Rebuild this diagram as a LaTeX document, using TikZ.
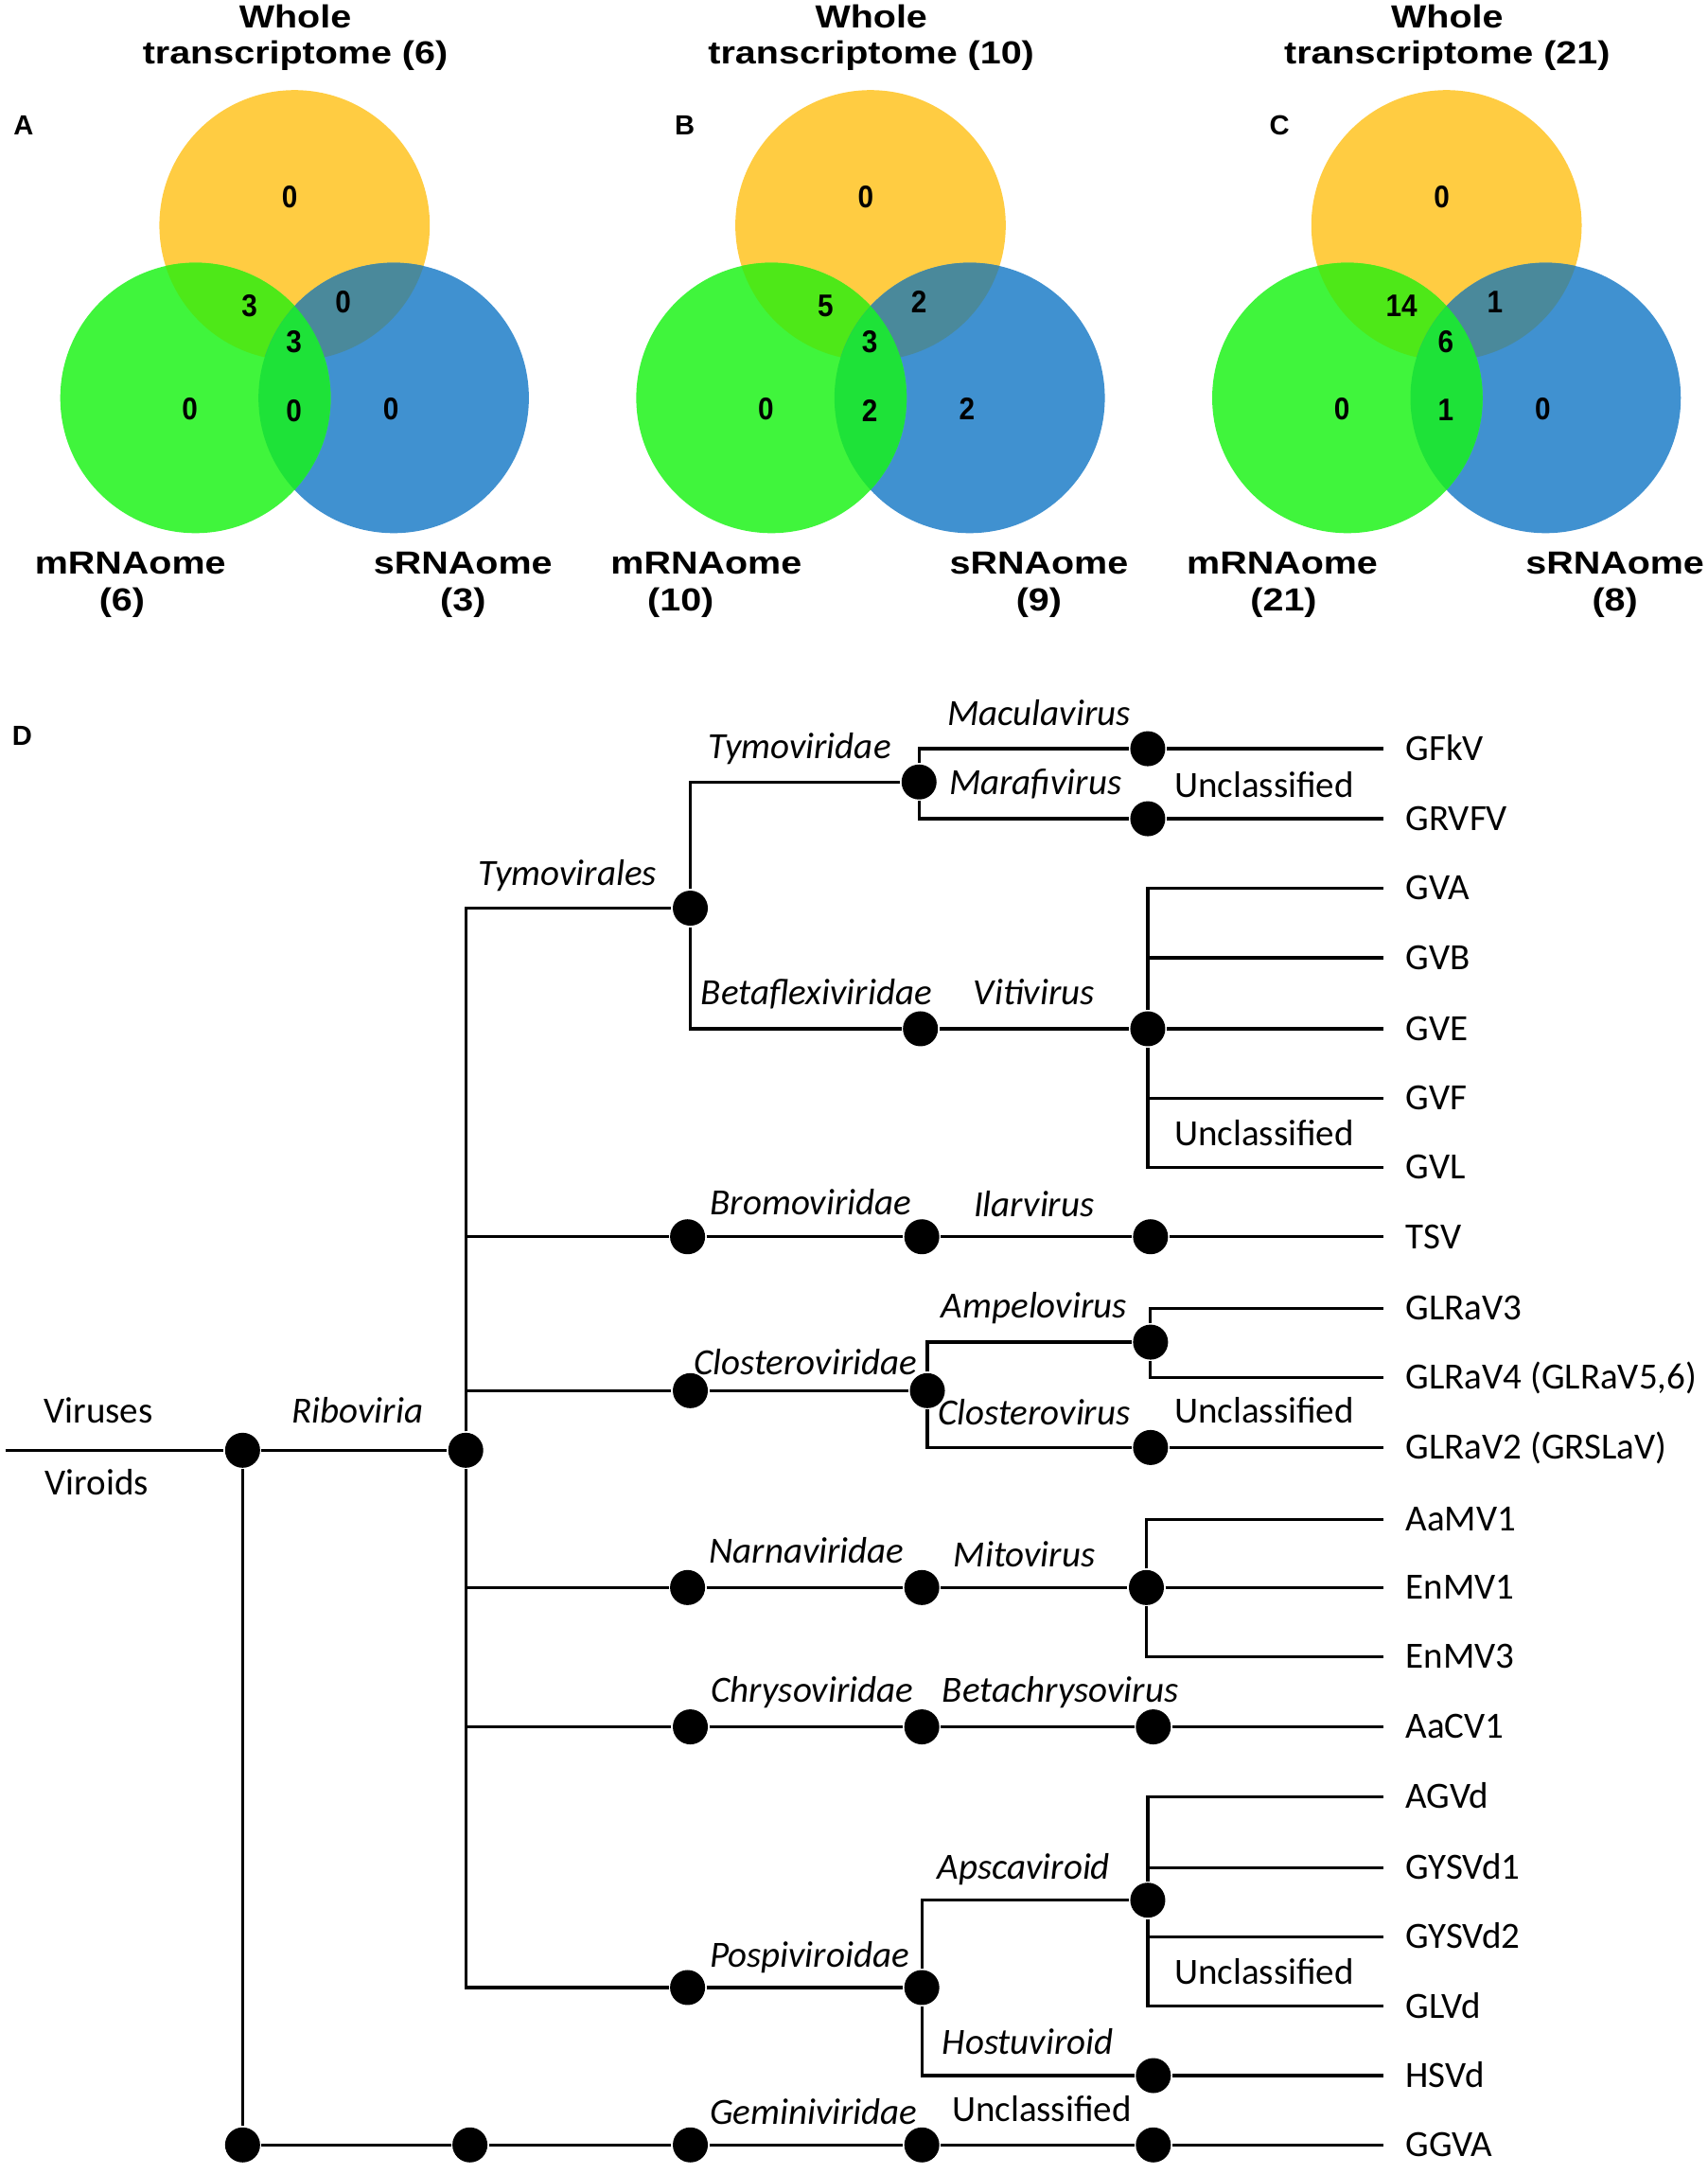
\documentclass[tikz,border=0pt]{standalone}
\usepackage{fontspec}
\setmainfont{Carlito}
\newfontfamily\vennfont[FakeStretch=1.17]{Liberation Sans}
\newfontfamily\vennnumfont[FakeStretch=0.9]{Liberation Sans}
\newfontfamily\panelfont{Liberation Sans}
\usetikzlibrary{positioning,calc}

\definecolor{vennyel}{RGB}{255,204,66}
\definecolor{venngrn}{RGB}{64,245,60}
\definecolor{vennblu}{RGB}{64,145,208}
\definecolor{vennyg}{RGB}{78,232,24}
\definecolor{vennyb}{RGB}{74,137,155}
\definecolor{venngb}{RGB}{30,226,56}

\tikzset{
  taxdot/.style={circle,fill=black,inner sep=0pt,minimum size=0.37cm},
  taxon/.style={font=\fontsize{11.1}{13}\selectfont\itshape,text height=8pt,text depth=1pt},
  uptext/.style={font=\fontsize{11.1}{13}\selectfont,text height=8pt,text depth=1pt},
  leaf/.style={uptext,anchor=west,inner xsep=0.22cm},
  vlab/.style={font=\vennfont\bfseries\fontsize{9.6}{11}\selectfont},
  vnum/.style={font=\vennnumfont\bfseries\fontsize{9.4}{11}\selectfont},
  panel/.style={font=\panelfont\bfseries\fontsize{8.3}{10}\selectfont}
}
\def\vr{1.4285cm}

\begin{document}
\begin{tikzpicture}[x=0.014651cm,y=-0.014651cm,line width=0.9pt]
\useasboundingbox (0,0) rectangle (1232,1568);

% Venn diagrams A, B, C
\foreach \dx/\p/\nt/\nm/\ns/\px/\lx/\ny/\nyg/\nyb/\nc/\ngb/\ng/\nb in {
    0/A/6/6/3/88/17/0/3/0/3/0/0/0,
    415.5/B/10/10/9/491/494/0/5/2/3/2/0/2,
    831/C/21/21/8/926/923/0/14/1/6/1/0/0}{
  \coordinate (Y\p) at ({\dx+212.5},162.5);
  \coordinate (G\p) at ({\dx+141},287);
  \coordinate (B\p) at ({\dx+284},287);
  \fill[vennyel] (Y\p) circle (\vr);
  \fill[vennblu] (B\p) circle (\vr);
  \fill[venngrn] (G\p) circle (\vr);
  \begin{scope}
    \clip (Y\p) circle (\vr);
    \fill[vennyg] (G\p) circle (\vr);
    \fill[vennyb] (B\p) circle (\vr);
  \end{scope}
  \begin{scope}
    \clip (G\p) circle (\vr);
    \fill[venngb] (B\p) circle (\vr);
  \end{scope}
  \node[vnum] (nY\p) at ({\dx+209},142) {\ny};
  \node[vnum] (nYG\p) at ({\dx+180},220.5) {\nyg};
  \node[vnum] (nYB\p) at ({\dx+247.5},218) {\nyb};
  \node[vnum] (nC\p) at ({\dx+212},246.5) {\nc};
  \node[vnum] (nGB\p) at ({\dx+212},296) {\ngb};
  \node[vnum] (nG\p) at ({\dx+137},295) {\ng};
  \node[vnum] (nB\p) at ({\dx+282},295) {\nb};
  \node[vlab] (wh\p) at ({\dx+213},12) {Whole};
  \node[vlab] (tr\p) at ({\dx+213},40) {transcriptome (\nt)};
  \node[vlab] (m\p) at ({\dx+94},406) {mRNAome};
  \node[vlab] (mn\p) at (\px,435) {(\nm)};
  \node[vlab] (s\p) at ({\dx+334},406) {sRNAome};
  \node[vlab] (sn\p) at ({\dx+334},435) {(\ns)};
  \node[panel] (pl\p) at (\lx,90.5) {\p};
}

% D: taxonomy tree
\node[panel] (plD) at (16,531) {D};

\coordinate (rs) at (4,1046);
\node[taxdot] (r0) at (175,1046) {};
\node[taxdot] (rib) at (336,1046) {};
\node[uptext] (lvir) at (71,1018) {Viruses};
\node[uptext] (lvid) at (70,1070) {Viroids};
\node[taxon] (lrib) at (258,1018) {Riboviria};
\draw (rs) -- (r0) -- (rib);

% Geminiviridae
\node[taxdot] (g0) at (175,1547) {};
\node[taxdot] (g1) at (339,1547) {};
\node[taxdot] (g2) at (498,1547) {};
\node[taxdot] (g3) at (665,1547) {};
\node[taxdot] (g4) at (832,1547) {};
\node[leaf] (GGVA) at (998,1547) {GGVA};
\node[taxon] (lgem) at (587,1524) {Geminiviridae};
\node[uptext] (lunc6) at (751.5,1522) {Unclassified};
\draw (r0) -- (g0) -- (g1) -- (g2) -- (g3) -- (g4) -- (GGVA);

% Tymovirales
\node[taxdot] (tymo) at (498,655) {};
\node[taxdot] (tymv) at (663,564) {};
\node[taxdot] (betf) at (664,742) {};
\node[taxdot] (macu) at (828,540) {};
\node[taxdot] (mara) at (828,590.5) {};
\node[taxdot] (viti) at (828,742) {};
\node[leaf] (GFkV) at (998,540) {GFkV};
\node[leaf] (GRVFV) at (998,590.5) {GRVFV};
\node[leaf] (GVA) at (998,640.7) {GVA};
\node[leaf] (GVB) at (998,690.8) {GVB};
\node[leaf] (GVE) at (998,742) {GVE};
\node[leaf] (GVF) at (998,792.2) {GVF};
\node[leaf] (GVL) at (998,842) {GVL};
\node[taxon] (ltymo) at (409.5,630) {Tymovirales};
\node[taxon] (ltymv) at (577,539) {Tymoviridae};
\node[taxon] (lbetf) at (589,716.5) {Betaflexiviridae};
\node[taxon] (lmacu) at (749.5,515) {Maculavirus};
\node[taxon] (lmara) at (747,564.5) {Marafivirus};
\node[uptext] (lunc1) at (912,567) {Unclassified};
\node[taxon] (lviti) at (746,716) {Vitivirus};
\node[uptext] (lunc2) at (912,818) {Unclassified};
\draw (rib) |- (tymo);
\draw (tymo) |- (tymv);
\draw (tymo) |- (betf);
\draw (tymv) |- (macu) -- (GFkV);
\draw (tymv) |- (mara) -- (GRVFV);
\draw (betf) -- (viti) -- (GVE);
\foreach \v in {GVA,GVB,GVF,GVL}
  \draw (viti) |- (\v);

% Bromoviridae
\node[taxdot] (brom) at (496,892) {};
\node[taxdot] (ilar) at (665,892) {};
\node[taxdot] (ilsp) at (830,892) {};
\node[leaf] (TSV) at (998,892) {TSV};
\node[taxon] (lbrom) at (585,868) {Bromoviridae};
\node[taxon] (lilar) at (746,869) {Ilarvirus};
\draw (rib) |- (brom) -- (ilar) -- (ilsp) -- (TSV);

% Closteroviridae
\node[taxdot] (clos) at (498,1003) {};
\node[taxdot] (closj) at (669,1003) {};
\node[taxdot] (ampe) at (830,968) {};
\node[taxdot] (clov) at (830,1044) {};
\node[leaf] (GLRaV3) at (998,943.6) {GLRaV3};
\node[leaf] (GLRaV4) at (998,993.6) {GLRaV4 (GLRaV5,6)};
\node[leaf] (GLRaV2) at (998,1044) {GLRaV2 (GRSLaV)};
\node[taxon] (lclos) at (581,983) {Closteroviridae};
\node[taxon] (lampe) at (746,942) {Ampelovirus};
\node[taxon] (lclov) at (746,1019) {Closterovirus};
\node[uptext] (lunc3) at (912,1018) {Unclassified};
\draw (rib) |- (clos) -- (closj);
\draw (closj) |- (ampe);
\draw (closj) |- (clov) -- (GLRaV2);
\draw (ampe) |- (GLRaV3);
\draw (ampe) |- (GLRaV4);

% Narnaviridae
\node[taxdot] (narn) at (496,1145) {};
\node[taxdot] (mito) at (665,1145) {};
\node[taxdot] (mitg) at (827,1145) {};
\node[leaf] (AaMV1) at (998,1096) {AaMV1};
\node[leaf] (EnMV1) at (998,1145) {EnMV1};
\node[leaf] (EnMV3) at (998,1195) {EnMV3};
\node[taxon] (lnarn) at (582,1119) {Narnaviridae};
\node[taxon] (lmito) at (739,1122) {Mitovirus};
\draw (rib) |- (narn) -- (mito) -- (mitg) -- (EnMV1);
\draw (mitg) |- (AaMV1);
\draw (mitg) |- (EnMV3);

% Chrysoviridae
\node[taxdot] (chry) at (498,1245.5) {};
\node[taxdot] (bchr) at (665,1245.5) {};
\node[taxdot] (bchg) at (832,1245.5) {};
\node[leaf] (AaCV1) at (998,1245.5) {AaCV1};
\node[taxon] (lchry) at (586,1219.5) {Chrysoviridae};
\node[taxon] (lbchr) at (765,1219.5) {Betachrysovirus};
\draw (rib) |- (chry) -- (bchr) -- (bchg) -- (AaCV1);

% Pospiviroidae
\node[taxdot] (posp) at (496,1433.5) {};
\node[taxdot] (pospj) at (665,1433.5) {};
\node[taxdot] (apsc) at (828,1370.5) {};
\node[taxdot] (host) at (832,1497) {};
\node[leaf] (AGVd) at (998,1296) {AGVd};
\node[leaf] (GYSVd1) at (998,1347) {GYSVd1};
\node[leaf] (GYSVd2) at (998,1397) {GYSVd2};
\node[leaf] (GLVd) at (998,1447) {GLVd};
\node[leaf] (HSVd) at (998,1497) {HSVd};
\node[taxon] (lposp) at (584,1410.5) {Pospiviroidae};
\node[taxon] (lapsc) at (738.5,1347) {Apscaviroid};
\node[taxon] (lhost) at (741.5,1473) {Hostuviroid};
\node[uptext] (lunc5) at (912,1423) {Unclassified};
\draw (rib) |- (posp) -- (pospj);
\draw (pospj) |- (apsc);
\draw (pospj) |- (host) -- (HSVd);
\foreach \v in {AGVd,GYSVd1,GYSVd2,GLVd}
  \draw (apsc) |- (\v);
\end{tikzpicture}
\end{document}
